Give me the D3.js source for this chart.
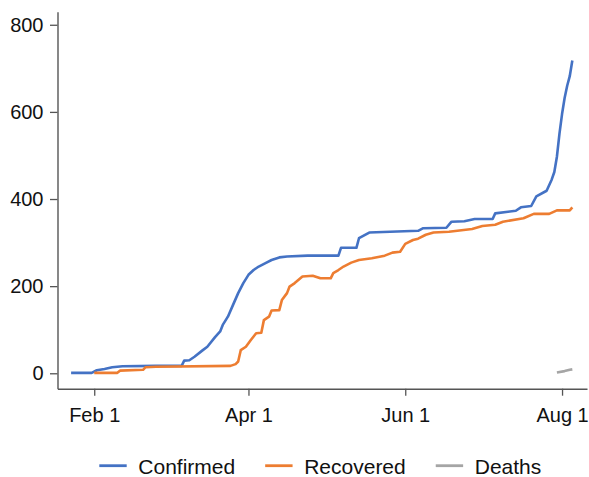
<!DOCTYPE html>
<html>
<head>
<meta charset="utf-8">
<script src="https://cdn.jsdelivr.net/npm/d3@7"></script>
<style>
  body { margin: 0; background: #fff; }
  svg { display: block; font-family: "Liberation Sans", Arial, sans-serif; }
</style>
</head>
<body>
<div id="chart"></div>
<script>
// series, [date, value]
const confirmed = [
  ["2020-01-23", 1], ["2020-01-31", 1], ["2020-02-02", 7], ["2020-02-05", 10],
  ["2020-02-08", 14], ["2020-02-12", 16], ["2020-02-25", 17], ["2020-03-06", 17],
  ["2020-03-07", 29], ["2020-03-09", 30], ["2020-03-11", 38], ["2020-03-14", 52],
  ["2020-03-16", 61], ["2020-03-19", 83], ["2020-03-21", 96], ["2020-03-22", 111],
  ["2020-03-24", 130], ["2020-03-26", 157], ["2020-03-28", 184], ["2020-03-30", 207],
  ["2020-04-01", 226], ["2020-04-03", 237], ["2020-04-05", 245], ["2020-04-08", 254],
  ["2020-04-10", 260], ["2020-04-13", 266], ["2020-04-16", 268], ["2020-04-24", 270],
  ["2020-05-06", 270], ["2020-05-07", 288], ["2020-05-13", 288], ["2020-05-14", 310],
  ["2020-05-18", 323], ["2020-06-06", 327], ["2020-06-08", 333], ["2020-06-17", 334],
  ["2020-06-19", 348], ["2020-06-24", 349], ["2020-06-28", 354], ["2020-07-05", 354],
  ["2020-07-06", 367], ["2020-07-14", 373], ["2020-07-16", 381], ["2020-07-20", 384],
  ["2020-07-22", 406], ["2020-07-26", 419], ["2020-07-28", 445], ["2020-07-29", 462],
  ["2020-07-30", 497], ["2020-07-31", 550], ["2020-08-01", 595], ["2020-08-02", 632],
  ["2020-08-03", 660], ["2020-08-04", 682], ["2020-08-05", 718]
];
const recovered = [
  ["2020-02-01", 1], ["2020-02-10", 1], ["2020-02-11", 6], ["2020-02-20", 8],
  ["2020-02-21", 14], ["2020-02-25", 15], ["2020-03-25", 17], ["2020-03-27", 21],
  ["2020-03-28", 27], ["2020-03-29", 53], ["2020-03-31", 61], ["2020-04-02", 77],
  ["2020-04-04", 92], ["2020-04-06", 93], ["2020-04-07", 122], ["2020-04-09", 130],
  ["2020-04-10", 144], ["2020-04-13", 145], ["2020-04-14", 168], ["2020-04-16", 184],
  ["2020-04-17", 199], ["2020-04-19", 207], ["2020-04-22", 222], ["2020-04-26", 224],
  ["2020-04-29", 218], ["2020-05-03", 218], ["2020-05-04", 230], ["2020-05-06", 237],
  ["2020-05-08", 245], ["2020-05-11", 254], ["2020-05-14", 260], ["2020-05-19", 264],
  ["2020-05-24", 270], ["2020-05-27", 277], ["2020-05-30", 279], ["2020-06-01", 297],
  ["2020-06-04", 306], ["2020-06-06", 309], ["2020-06-09", 318], ["2020-06-12", 323],
  ["2020-06-18", 325], ["2020-06-27", 331], ["2020-07-01", 338], ["2020-07-06", 341],
  ["2020-07-09", 348], ["2020-07-17", 356], ["2020-07-21", 366], ["2020-07-27", 366],
  ["2020-07-30", 374], ["2020-08-04", 374], ["2020-08-05", 381]
];
const deaths = [
  ["2020-07-30", 2], ["2020-08-02", 5], ["2020-08-04", 8], ["2020-08-05", 9]
];

const seriesNames = ["Confirmed", "Recovered", "Deaths"];
const seriesColors = ["#4472C4", "#ED7D31", "#A5A5A5"];
const xTickDates = ["2020-02-01", "2020-04-01", "2020-06-01", "2020-08-01"];
const yTicks = [0, 200, 400, 600, 800];

const W = 589, H = 477;
const margin = { top: 11.7, right: 2, bottom: 88.3, left: 57.5 };
const parse = d3.utcParse("%Y-%m-%d");

const svg = d3.select("#chart")
  .append("svg")
  .attr("width", W)
  .attr("height", H);

// scales
const x = d3.scaleUtc()
  .domain([Date.UTC(2020, 0, 17, 17), Date.UTC(2020, 7, 10, 17)])
  .range([margin.left, W - margin.right]);

const y = d3.scaleLinear()
  .domain([-35.4, 830])
  .range([H - margin.bottom, margin.top]);

// x axis
const xAxis = svg.append("g")
  .attr("transform", "translate(0," + (H - margin.bottom) + ")")
  .call(d3.axisBottom(x)
    .tickValues(xTickDates.map(parse))
    .tickFormat(d3.utcFormat("%b %-d"))
    .tickSizeInner(7)
    .tickSizeOuter(0)
    .tickPadding(12));

// y axis
const yAxis = svg.append("g")
  .attr("transform", "translate(" + margin.left + ",0)")
  .call(d3.axisLeft(y)
    .tickValues(yTicks)
    .tickSizeInner(7.5)
    .tickSizeOuter(0)
    .tickPadding(6.5));

[xAxis, yAxis].forEach(function (g) {
  g.select(".domain").attr("stroke", "#555").attr("stroke-width", 1.4);
  g.selectAll(".tick line").attr("stroke", "#555").attr("stroke-width", 1.3);
  g.selectAll(".tick text")
    .attr("fill", "#111")
    .style("font-size", "20px")
    .style("font-family", "'Liberation Sans', Arial, sans-serif");
});

// lines
const line = d3.line()
  .x(function (d) { return x(parse(d[0])); })
  .y(function (d) { return y(d[1]); });

[confirmed, recovered, deaths].forEach(function (data, i) {
  svg.append("path")
    .datum(data)
    .attr("fill", "none")
    .attr("stroke", seriesColors[i])
    .attr("stroke-width", 2.6)
    .attr("stroke-linejoin", "round")
    .attr("d", line);
});

// legend
const legend = svg.append("g");
let lx = 99.3;
const ly = 465.7;
seriesNames.forEach(function (name, i) {
  legend.append("line")
    .attr("x1", lx).attr("x2", lx + 27.4)
    .attr("y1", ly).attr("y2", ly)
    .attr("stroke", seriesColors[i])
    .attr("stroke-width", 2.8);
  const t = legend.append("text")
    .attr("x", lx + 39)
    .attr("y", ly + 8)
    .attr("fill", "#111")
    .style("font-size", "21px")
    .text(name);
  lx = lx + 39 + t.node().getComputedTextLength() + 30;
});
</script>
</body>
</html>
